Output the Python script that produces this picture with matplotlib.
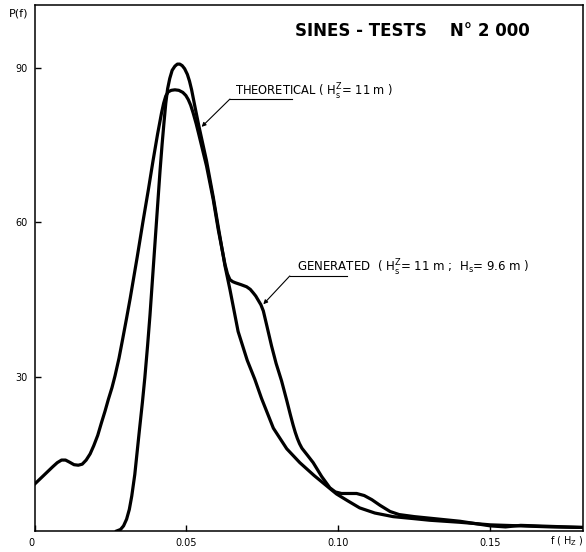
import matplotlib.pyplot as plt

# Spectral density P(f)
theo_f = [0.0270, 0.0283, 0.0293, 0.0303, 0.0312, 0.0320, 0.0330, 0.0345, 0.0355,
          0.0363, 0.0372, 0.0380, 0.0390, 0.0400, 0.0413, 0.0420, 0.0426, 0.0432,
          0.0438, 0.0445, 0.0453, 0.0462, 0.0470, 0.0478, 0.0486, 0.0494, 0.0503,
          0.0510, 0.0517, 0.0528, 0.0540, 0.0566, 0.0588, 0.0605, 0.0627, 0.0643,
          0.0670, 0.0700, 0.0725, 0.0747, 0.0786, 0.0830, 0.0873, 0.0920, 0.0961,
          0.0994, 0.1030, 0.1070, 0.1120, 0.1180, 0.1250, 0.1300, 0.1400, 0.1500,
          0.1600, 0.1700, 0.1800]
theo_p = [0.0, 0.3, 1.0, 2.3, 4.2, 6.8, 11.0, 19.5, 25.0,
          29.8, 36.0, 42.0, 50.5, 59.0, 70.0, 75.3, 79.4, 83.2,
          86.0, 88.0, 89.6, 90.4, 90.8, 90.8, 90.5, 89.9, 88.8,
          87.5, 85.8, 82.5, 79.0, 72.0, 65.0, 59.0, 51.5, 47.0,
          38.8, 33.2, 29.5, 25.8, 20.0, 16.0, 13.3, 10.8, 8.8,
          7.2, 5.9, 4.5, 3.5, 2.8, 2.4, 2.1, 1.7, 1.2,
          1.0, 0.8, 0.7]

gen_f = [0.0, 0.0030, 0.0060, 0.0075, 0.0089, 0.0102, 0.0115, 0.0130, 0.0144,
         0.0157, 0.0170, 0.0183, 0.0195, 0.0208, 0.0220, 0.0232, 0.0243, 0.0255,
         0.0265, 0.0278, 0.0290, 0.0303, 0.0315, 0.0338, 0.0357, 0.0375, 0.0390,
         0.0405, 0.0418, 0.0425, 0.0432, 0.0440, 0.0450, 0.0462, 0.0475, 0.0488,
         0.0498, 0.0506, 0.0514, 0.0522, 0.0532, 0.0540, 0.0566, 0.0588, 0.0605,
         0.0627, 0.0635, 0.0643, 0.0652, 0.0660, 0.0680, 0.0698, 0.0710, 0.0720,
         0.0728, 0.0736, 0.0745, 0.0753, 0.0765, 0.0780, 0.0795, 0.0813, 0.0830,
         0.0842, 0.0851, 0.0858, 0.0865, 0.0872, 0.0880, 0.0900, 0.0917, 0.0945,
         0.0972, 0.0990, 0.1010, 0.1035, 0.1060, 0.1085, 0.1110, 0.1137, 0.1170,
         0.1200, 0.1250, 0.1300, 0.1400, 0.1500, 0.1550, 0.1600, 0.1700, 0.1800]
gen_p = [9.1, 10.8, 12.5, 13.3, 13.8, 13.8, 13.4, 12.9, 12.8,
         13.0, 13.8, 15.0, 16.6, 18.6, 21.0, 23.3, 25.6, 27.9,
         30.2, 33.6, 37.3, 41.4, 45.3, 53.3, 60.2, 66.5, 72.0,
         77.2, 81.3, 83.2, 84.6, 85.4, 85.7, 85.8, 85.7, 85.3,
         84.7, 83.9, 82.8, 81.3, 79.2, 77.3, 71.0, 64.5, 58.5,
         51.8, 50.0, 48.9, 48.5, 48.3, 47.9, 47.5, 47.0, 46.3,
         45.7, 44.9, 44.0, 42.8, 39.8, 36.0, 32.6, 29.2, 25.4,
         22.6, 20.6, 19.2, 18.0, 17.0, 16.1, 14.6, 13.3, 10.6,
         8.4, 7.6, 7.3, 7.3, 7.3, 6.9, 6.1, 5.0, 3.8,
         3.2, 2.8, 2.5, 1.9, 1.0, 0.8, 1.1, 0.9, 0.7]

xticks = [0, 0.05, 0.10, 0.15]
xticklabels = ["0", "0.05", "0.10", "0.15"]
yticks = [30, 60, 90]

fig = plt.figure(figsize=(5.86, 5.52), dpi=100)
ax = fig.add_axes([0.0589, 0.038, 0.936, 0.953])

ax.plot(theo_f, theo_p, color='black', lw=2.3, solid_joinstyle='round')
ax.plot(gen_f, gen_p, color='black', lw=2.3, solid_joinstyle='round')

ax.set_xlim(0, 0.1805)
ax.set_ylim(0, 102.3)
ax.set_xticks(xticks)
ax.set_xticklabels(xticklabels)
ax.set_yticks(yticks)
ax.tick_params(direction='in', length=4, width=1, labelsize=7, pad=5)
ax.get_xticklabels()[0].set_horizontalalignment('right')
for s in ax.spines.values():
    s.set_linewidth(1.1)

# title and axis names
ax.text(0.1245, 97.3, "SINES - TESTS    N° 2 000", fontsize=12, fontweight='heavy',
        ha='center', va='center')
ax.text(-0.0053, 100.6, "P(f)", fontsize=8, ha='center', va='center')
ax.text(0.1752, -1.9, "f ( H$_\\mathrm{Z}$ )", fontsize=7, ha='center', va='center')

# leader for theoretical curve
ax.annotate('', xy=(0.0550, 78.6), xytext=(0.0643, 84.0),
            arrowprops=dict(arrowstyle='-|>', lw=0.8, color='black',
                            mutation_scale=6, shrinkA=0, shrinkB=0))
ax.plot([0.0643, 0.0846], [84.0, 84.0], color='black', lw=0.8)
ax.text(0.0660, 84.7, "THEORETICAL ( H$_\\mathrm{s}^\\mathrm{Z}$= 11 m )",
        fontsize=8.3, va='baseline')

# leader for generated curve
ax.annotate('', xy=(0.0753, 44.1), xytext=(0.0840, 49.6),
            arrowprops=dict(arrowstyle='-|>', lw=0.8, color='black',
                            mutation_scale=6, shrinkA=0, shrinkB=0))
ax.plot([0.0840, 0.1027], [49.6, 49.6], color='black', lw=0.8)
ax.text(0.0863, 50.4, "GENERATED  ( H$_\\mathrm{s}^\\mathrm{Z}$= 11 m ;  H$_\\mathrm{s}$= 9.6 m )",
        fontsize=8.5, va='baseline')

fig.savefig("out.png", dpi=100)
